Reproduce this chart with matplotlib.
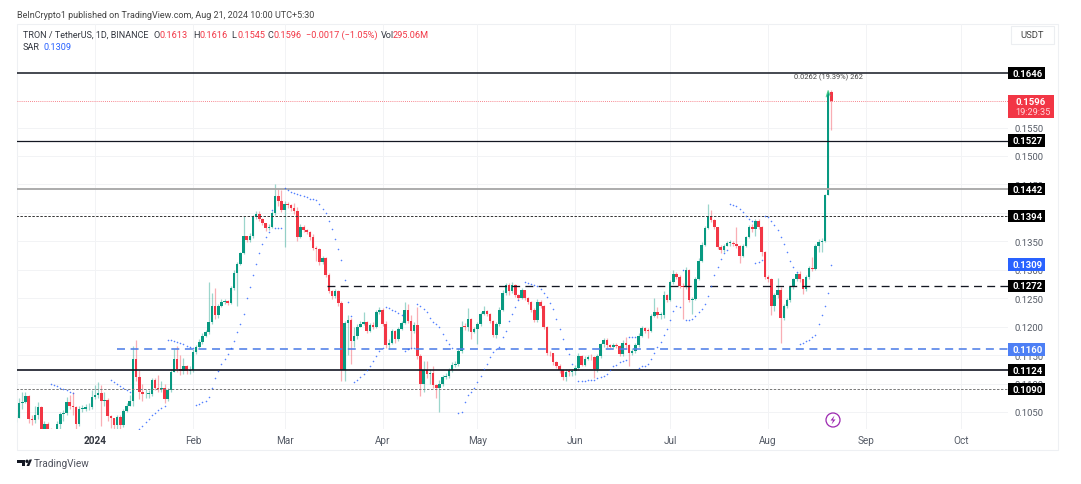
import numpy as np
import matplotlib
matplotlib.use('Agg')
import matplotlib.pyplot as plt
from matplotlib.patches import Rectangle, Polygon, Ellipse
from matplotlib.transforms import blended_transform_factory

W, H = 1081, 485

# all prices in thousandths of USDT, days counted from 1 Jan 2024
first_day = -25
first_open = 103.5

closes = [
    104.0, 106.6, 106.7, 107.8, 103.7, 103.6, 104.4, 105.9, 101.5, 102.9,
    102.0, 101.7, 101.3, 102.9, 104.6, 104.9, 106.7, 106.0, 105.8, 102.9,
    105.5, 105.6, 105.8, 105.9, 107.6, 107.9, 108.3, 107.0, 107.1, 104.3,
    103.9, 102.7, 104.2, 102.7, 105.2, 106.1, 106.9, 114.3, 111.2, 108.6,
    108.1, 108.2, 108.2, 110.6, 109.3, 109.0, 109.2, 107.2, 108.9, 112.1,
    114.4, 112.5, 112.2, 113.0, 112.2, 112.3, 115.6, 116.4, 117.3, 118.4,
    119.0, 120.9, 123.6, 122.0, 123.7, 124.4, 124.5, 124.1, 126.8, 129.5,
    131.0, 132.9, 135.9, 135.3, 136.0, 139.2, 139.8, 139.0, 138.2, 137.3,
    137.6, 139.9, 142.9, 142.0, 140.5, 141.5, 141.4, 140.8, 140.4, 135.8,
    137.6, 137.0, 136.7, 135.7, 133.8, 133.6, 131.4, 132.0, 129.1, 126.3,
    125.3, 126.2, 124.1, 112.4, 120.6, 121.2, 117.4, 118.3, 120.0, 120.5,
    120.8, 119.3, 120.3, 120.0, 122.5, 123.0, 120.5, 116.7, 117.2, 119.2,
    117.8, 119.6, 120.6, 123.0, 121.0, 119.2, 120.3, 114.8, 110.0, 112.4,
    111.6, 111.8, 109.7, 109.3, 110.0, 111.1, 111.4, 112.4, 113.3, 113.4,
    115.8, 120.0, 119.9, 121.3, 119.0, 119.6, 120.5, 122.2, 122.7, 122.2,
    121.0, 118.5, 120.5, 123.0, 126.0, 127.3, 126.3, 127.4, 125.6, 125.0,
    126.4, 125.0, 124.4, 123.0, 121.2, 124.4, 123.6, 120.0, 115.4, 115.3,
    113.7, 113.1, 112.4, 111.1, 112.1, 112.0, 112.2, 112.8, 114.9, 113.3,
    114.4, 114.7, 114.6, 112.5, 114.9, 116.9, 117.7, 116.7, 116.5, 116.8,
    116.6, 115.2, 117.2, 116.7, 115.4, 115.8, 116.8, 118.4, 119.7, 119.3,
    119.2, 121.9, 122.6, 122.0, 122.0, 125.5, 124.7, 127.8, 129.3, 128.8,
    127.2, 126.9, 130.0, 124.7, 124.8, 128.4, 131.6, 134.4, 137.3, 139.5,
    138.8, 137.5, 134.0, 133.5, 134.2, 134.7, 134.7, 134.6, 134.2, 132.5,
    134.2, 135.7, 137.5, 137.2, 138.6, 137.5, 133.1, 128.7, 128.4, 123.6,
    125.5, 126.5, 121.5, 123.6, 124.6, 126.9, 128.3, 129.2, 128.3, 126.6,
    128.7, 130.3, 130.2, 134.1, 134.8, 135.1, 143.1, 161.3, 159.6,
]
highs = [
    104.5, 107.5, 108.6, 108.6, 108.0, 104.5, 106.0, 106.8, 106.1, 103.5,
    103.2, 102.2, 101.9, 103.5, 105.0, 105.3, 107.6, 108.0, 108.5, 106.0,
    106.0, 106.2, 106.4, 106.6, 108.8, 109.8, 110.3, 109.8, 108.5, 107.5,
    104.5, 104.0, 104.5, 104.4, 105.5, 106.5, 108.0, 116.6, 117.6, 112.4,
    110.0, 109.0, 108.9, 111.0, 111.0, 111.5, 110.5, 110.0, 109.3, 112.6,
    116.0, 116.6, 115.0, 114.5, 113.2, 113.0, 116.0, 116.8, 117.8, 118.8,
    119.4, 127.8, 126.0, 126.8, 124.0, 124.8, 124.9, 124.7, 127.2, 130.0,
    131.4, 133.2, 139.4, 136.0, 136.5, 139.7, 140.4, 140.3, 139.1, 138.3,
    138.0, 140.3, 145.0, 144.2, 144.0, 142.0, 141.9, 141.5, 141.8, 141.0,
    138.0, 137.8, 137.2, 136.8, 136.3, 134.2, 133.8, 132.5, 132.2, 129.5,
    126.4, 126.7, 126.5, 124.5, 121.0, 122.0, 121.5, 120.0, 120.4, 121.0,
    122.5, 121.0, 120.6, 120.8, 122.9, 123.5, 123.2, 121.0, 117.8, 119.6,
    119.4, 120.0, 121.0, 124.3, 124.0, 122.0, 120.8, 123.5, 115.2, 114.0,
    114.0, 112.5, 113.0, 110.0, 110.6, 111.5, 111.8, 112.8, 113.7, 114.0,
    116.2, 121.0, 120.6, 123.2, 121.5, 120.0, 120.9, 122.6, 123.7, 123.0,
    122.4, 121.2, 120.9, 123.4, 126.5, 127.7, 127.6, 127.8, 127.5, 125.8,
    126.8, 126.5, 125.2, 124.5, 123.2, 124.8, 124.6, 123.8, 120.2, 115.8,
    115.4, 113.9, 113.4, 112.6, 112.5, 112.5, 112.6, 113.3, 115.3, 115.0,
    114.8, 115.1, 115.2, 114.8, 115.2, 117.2, 118.0, 118.0, 117.0, 117.2,
    117.2, 116.8, 117.6, 118.2, 116.9, 116.2, 117.1, 118.8, 120.2, 120.0,
    119.8, 122.3, 125.1, 123.5, 122.5, 126.2, 125.8, 128.2, 130.0, 129.6,
    129.0, 127.6, 130.4, 130.2, 125.2, 128.8, 132.0, 134.8, 137.7, 141.6,
    140.5, 139.0, 137.6, 134.3, 134.6, 135.0, 135.2, 135.0, 137.5, 134.3,
    134.6, 136.0, 137.9, 138.0, 139.0, 139.0, 137.7, 133.3, 129.0, 128.5,
    125.9, 128.5, 127.0, 124.0, 125.0, 127.2, 128.6, 129.6, 129.8, 128.4,
    129.0, 130.7, 132.2, 134.5, 135.4, 135.6, 143.4, 161.5, 161.6,
]
lows = [
    103.2, 103.9, 105.5, 106.5, 103.0, 102.8, 103.0, 103.8, 101.0, 101.0,
    101.0, 101.0, 100.8, 101.0, 102.0, 103.5, 104.5, 105.5, 104.5, 101.9,
    102.5, 105.0, 105.2, 105.4, 105.5, 107.2, 107.5, 102.5, 106.0, 103.4,
    102.2, 102.0, 101.8, 101.8, 102.3, 105.0, 106.0, 106.0, 110.5, 107.2,
    106.9, 107.5, 107.4, 107.8, 108.8, 108.5, 108.5, 106.5, 106.9, 108.5,
    112.0, 112.0, 111.5, 111.7, 111.6, 111.6, 112.0, 115.2, 116.2, 117.0,
    118.2, 118.7, 120.4, 121.4, 121.6, 123.4, 124.0, 123.8, 123.9, 126.5,
    123.7, 130.8, 132.7, 134.9, 134.9, 135.6, 138.9, 138.6, 137.8, 136.8,
    137.0, 137.4, 139.6, 141.2, 140.2, 134.0, 140.9, 140.3, 139.8, 135.0,
    135.6, 136.6, 136.2, 135.2, 133.4, 131.6, 130.9, 131.0, 128.7, 125.9,
    124.9, 125.0, 123.6, 110.5, 110.5, 115.0, 113.5, 116.5, 117.9, 120.0,
    120.3, 118.9, 119.0, 119.5, 119.8, 122.3, 120.2, 116.2, 116.0, 116.9,
    117.2, 117.5, 119.4, 120.4, 120.6, 116.0, 118.9, 114.4, 107.8, 108.5,
    110.9, 110.0, 109.3, 107.5, 105.0, 109.6, 110.8, 111.0, 112.0, 112.9,
    113.0, 115.4, 119.4, 119.3, 117.8, 118.9, 117.0, 120.1, 122.0, 121.8,
    120.7, 118.1, 118.0, 120.2, 122.7, 125.6, 125.6, 126.0, 125.2, 124.6,
    124.8, 124.6, 124.0, 122.6, 120.8, 120.9, 123.2, 119.6, 115.0, 114.8,
    113.3, 112.7, 111.8, 110.7, 110.5, 111.4, 111.3, 111.5, 112.3, 113.0,
    113.0, 114.2, 114.2, 111.0, 112.1, 114.5, 116.5, 116.2, 116.2, 116.3,
    116.2, 114.9, 114.9, 116.3, 113.0, 115.0, 115.4, 116.4, 118.2, 118.8,
    118.0, 119.0, 121.7, 121.6, 121.4, 121.6, 124.3, 124.5, 127.5, 128.3,
    126.8, 121.3, 126.6, 124.3, 122.3, 124.6, 128.2, 131.3, 134.2, 137.1,
    138.4, 137.1, 133.6, 132.9, 133.2, 134.2, 134.2, 134.2, 133.9, 131.2,
    132.2, 134.0, 135.5, 136.7, 136.0, 137.1, 132.5, 128.3, 127.9, 122.0,
    122.8, 125.1, 117.2, 121.2, 123.2, 124.4, 126.6, 128.0, 127.9, 125.8,
    126.2, 128.4, 129.8, 129.9, 133.2, 133.2, 134.8, 143.1, 154.5,
]

sar_days = np.r_[-14:-6, 5:12, 14:23, 23:32, 32:60, 60:82, 82:92, 92:98, 98:102,
                 102:114, 115:135, 136:152, 153:169, 169:172, 172:186, 186:187,
                 187:201, 201:209, 209:212, 212:223, 223:234]
sar_values = [
    109.9, 109.7, 109.5, 109.3, 109.1, 108.8, 108.6, 108.4,
    110.6, 110.3, 110.0, 109.6, 109.2, 108.8, 108.6,
    102.0, 102.6, 103.2, 103.8, 104.4, 104.9, 105.3, 105.7, 106.1,
    117.7, 117.6, 117.4, 117.3, 117.1, 116.9, 116.6, 116.4, 116.2,
    106.2, 106.4, 106.7, 107.0, 107.7, 109.3, 111.0, 112.2, 113.5, 114.3,
    115.2, 116.3, 117.5, 119.0, 120.5, 122.2, 125.0, 127.0, 129.1, 131.0,
    132.9, 134.5, 135.7, 136.7, 140.5, 137.3, 137.3, 137.4,
    144.3, 144.1, 143.7, 143.5, 143.3, 143.2, 143.0, 142.7, 142.5, 142.4,
    142.2, 141.5, 140.7, 139.9, 138.6, 137.1, 135.4, 133.6, 131.8, 128.2,
    124.4, 121.9,
    110.3, 110.7, 111.1, 111.6, 112.3, 113.1, 114.0, 114.8, 115.8, 116.2,
    123.4, 123.2, 123.0, 122.7, 122.4, 122.1,
    115.8, 116.1, 116.2, 116.3,
    124.0, 123.6, 123.1, 122.5, 121.6, 120.9, 120.5, 120.0, 118.7, 117.7, 117.0, 116.2,
    104.9, 105.0, 106.7, 107.9, 108.6, 109.2, 110.3, 111.4, 112.5, 113.5,
    114.6, 115.5, 116.0, 116.4, 118.1, 119.3, 121.0, 122.2, 123.4, 124.6,
    127.8, 127.7, 127.5, 127.3, 127.1, 126.7, 126.0, 125.2, 124.2, 123.1,
    121.3, 119.6, 117.8, 116.1, 115.2, 113.4,
    110.4, 110.5, 110.5, 110.7, 110.7, 110.7, 111.0, 111.2, 111.4, 111.7,
    112.3, 113.0, 113.3, 113.7, 114.0, 114.2,
    118.1, 118.1, 118.1,
    112.8, 113.0, 113.1, 113.4, 114.3, 115.4, 116.4, 117.3, 118.5, 119.6,
    121.2, 122.8, 123.7, 123.4,
    130.0,
    121.2, 121.2, 121.4, 121.9, 122.5, 123.1, 124.0, 125.3, 127.2, 129.0,
    130.4, 131.9, 133.0, 133.4,
    141.6, 141.4, 141.2, 140.7, 140.1, 139.5, 138.9, 138.6,
    131.2, 131.4, 131.8,
    139.4, 139.2, 138.6, 137.8, 136.9, 135.7, 134.5, 133.2, 131.6, 130.4, 129.6,
    117.0, 117.2, 117.4, 117.7, 118.1, 118.5, 120.5, 122.0, 123.6, 126.0, 130.9,
]

# 0.1100 0.1150 0.1300 0.1400 0.1450 sit behind the level boxes in the reference,
# only a sliver of them shows
price_ticks = [105, 110, 115, 120, 125, 130, 135, 140, 145, 150, 155]
month_days = [0, 31, 60, 91, 121, 152, 182, 213, 244, 274]
month_labels = ['2024', 'Feb', 'Mar', 'Apr', 'May', 'Jun', 'Jul', 'Aug', 'Sep', 'Oct']

level_values = [164.6, 152.7, 144.2, 139.4, 127.2, 116.0, 112.4, 109.0]
level_labels = ['0.1646', '0.1527', '0.1442', '0.1394', '0.1272', '0.1160', '0.1124', '0.1090']
level_colors = ['#131722', '#131722', '#a6a6a6', '#333333', '#131722', '#4f7fe8', '#131722', '#777777']
level_styles = ['-', '-', '-', (0, (2.5, 1.6)), (0, (6, 4)), (0, (5, 3.5)), '-', (0, (2.5, 1.6))]
level_widths = [1.1, 0.9, 1.3, 0.7, 0.95, 1.15, 1.2, 0.7]
level_starts = [-30, -30, -30, -30, 73.5, 7, -30, -30]

last_price = 159.6
green = '#089981'
red = '#f23645'
blue = '#2962ff'

plt.rcParams['font.family'] = ['Roboto', 'DejaVu Sans']


def fx(x):
    return x / W


def fy(y):
    return 1 - y / H


fig = plt.figure(figsize=(W / 100, H / 100), dpi=100, facecolor='white')

# chart frame
fig.add_artist(Rectangle((fx(17), fy(451)), 1041 / W, 426 / H, transform=fig.transFigure,
                         fc='white', ec='#eef0f3', lw=0.8, zorder=-5))

ax = fig.add_axes([fx(17), fy(430), 991 / W, 405 / H])
ax.set_xlim((17 - 95) / 3.16, (1008 - 95) / 3.16)
ax.set_ylim(155 - (430 - 128.5) / 5.69, 155 + (128.5 - 25) / 5.69)
ax.patch.set_alpha(0)
for s in ax.spines.values():
    s.set_visible(False)

ax.set_xticks(month_days)
ax.set_xticklabels(month_labels, fontsize=7.2, color='#555b66')
ax.get_xticklabels()[0].set_fontweight('bold')
ax.get_xticklabels()[0].set_color('#333740')
ax.tick_params(axis='x', length=0, pad=4)
ax.yaxis.tick_right()
ax.set_yticks(price_ticks)
ax.set_yticklabels(['%.4f' % (p / 1000) for p in price_ticks], fontsize=6.8, color='#555b66')
ax.tick_params(axis='y', length=0, pad=5)
ax.grid(True, color='#f2f3f5', lw=0.7)
ax.set_axisbelow(True)

closes_a = np.array(closes)
highs_a = np.array(highs)
lows_a = np.array(lows)
opens_a = np.r_[first_open, closes_a[:-1]]
days = np.arange(len(closes)) + first_day
up = closes_a >= opens_a
colors = np.where(up, green, red)

# price line and levels below the candles
ax.axhline(last_price, color=red, lw=0.6, ls=(0, (1, 1.5)), alpha=0.8, zorder=1.5)
for v, c, st, lw, x0 in zip(level_values, level_colors, level_styles, level_widths, level_starts):
    ax.plot([x0, 300], [v, v], color=c, ls=st, lw=lw, zorder=4)

# candles
ax.vlines(days, lows_a, highs_a, colors=list(colors), lw=0.9, alpha=0.4, zorder=2)
body_bottom = np.minimum(opens_a, closes_a)
body_height = np.maximum(np.abs(closes_a - opens_a), 0.15)
ax.bar(days, body_height, bottom=body_bottom, width=0.8, color=list(colors), lw=0, zorder=3)

# parabolic SAR
ax.plot(sar_days, sar_values, ls='none', marker='o', ms=1.15, mew=0, color=blue, alpha=0.8, zorder=5)

# measure tick on the last leg
ax.plot([231.4, 232, 232.6], [160.4, 161.5, 160.6], color='#4cd08a', lw=0.7, zorder=5)
ax.text(232, 164.05, '0.0262 (19.39%) 262', fontsize=5.4, color='#444444', ha='center', va='center', zorder=6)

# price scale boxes
tr = blended_transform_factory(fig.transFigure, ax.transData)
for v, lab in zip(level_values, level_labels):
    if lab == '0.1160':
        continue
    ax.add_patch(Rectangle((fx(1008), v - 1.08), 37 / W, 2.16, transform=tr, fc='black', ec='none',
                           clip_on=False, zorder=8))
    ax.text(fx(1028), v - 0.03, lab, transform=tr, color='white', fontsize=6.8, fontweight='bold',
            ha='center', va='center', zorder=9)

ax.add_patch(Rectangle((fx(1008), 130.9 - 1.1), 37 / W, 2.2, transform=tr, fc='#2962ff', ec='none',
                       clip_on=False, zorder=8))
ax.text(fx(1028), 130.87, '0.1309', transform=tr, color='white', fontsize=6.8, fontweight='bold',
        ha='center', va='center', zorder=9)
ax.add_patch(Rectangle((fx(1008), 116.0 - 1.1), 37 / W, 2.2, transform=tr, fc='#4d7ff5', ec='none',
                       clip_on=False, zorder=8.5))
ax.text(fx(1028), 115.97, '0.1160', transform=tr, color='white', fontsize=6.8, fontweight='bold',
        ha='center', va='center', zorder=9)
ax.add_patch(Rectangle((fx(1008), 156.7), 46 / W, 4.0, transform=tr, fc=red, ec='none',
                       clip_on=False, zorder=8))
ax.text(fx(1015), 159.55, '0.1596', transform=tr, color='white', fontsize=6.8, fontweight='bold',
        ha='left', va='center', zorder=9)
ax.text(fx(1015), 157.85, '19:29:35', transform=tr, color='#ffd5d9', fontsize=6.6,
        ha='left', va='center', zorder=9)

# header
fig.text(fx(17), fy(16), 'BeInCrypto1 published on TradingView.com, Aug 21, 2024 10:00 UTC+5:30',
         fontsize=6.5, color='#444444', ha='left', va='center')
fig.text(fx(23), fy(35.5), 'TRON / TetherUS, 1D, BINANCE', fontsize=6.5, color='#333740',
         ha='left', va='center')
ohlc_x = [154, 193, 231, 268]
ohlc_k = ['O', 'H', 'L', 'C']
ohlc_v = ['0.1613', '0.1616', '0.1545', '0.1596']
for x, k, v in zip(ohlc_x, ohlc_k, ohlc_v):
    fig.text(fx(x), fy(35.5), k, fontsize=6.6, color='#333740', ha='left', va='center')
    fig.text(fx(x + 6), fy(35.5), v, fontsize=6.6, color=red, ha='left', va='center')
fig.text(fx(306), fy(35.5), '\u22120.0017 (\u22121.05%)', fontsize=6.6, color=red, ha='left', va='center')
fig.text(fx(381), fy(35.5), 'Vol', fontsize=6.6, color='#333740', ha='left', va='center')
fig.text(fx(393), fy(35.5), '295.06M', fontsize=6.6, color=red, ha='left', va='center')
fig.text(fx(23), fy(48), 'SAR', fontsize=6.6, color='#333740', ha='left', va='center')
fig.text(fx(43), fy(48), '0.1309', fontsize=6.6, color=blue, ha='left', va='center')

# USDT button
fig.add_artist(Rectangle((fx(1011), fy(45)), 43 / W, 18 / H, transform=fig.transFigure,
                         fc='white', ec='#eceef1', lw=0.8))
fig.text(fx(1032.5), fy(36), 'USDT', fontsize=6.8, color='#444444', ha='center', va='center')

# lightning marker
fig.add_artist(Ellipse((fx(833), fy(421)), 14 / W, 14 / H, transform=fig.transFigure,
                       fc='white', ec='#9c27b0', lw=0.9, zorder=6))
fig.add_artist(Polygon([(fx(834.5), fy(416.5)), (fx(830.5), fy(421.5)), (fx(833), fy(421.5)),
                        (fx(831.5), fy(425.5)), (fx(835.5), fy(420.5)), (fx(833), fy(420.5))],
                       closed=True, transform=fig.transFigure, fc='#9c27b0', ec='none', zorder=7))

# TradingView logo
logo = '#131722'
fig.add_artist(Polygon([(fx(17), fy(460.5)), (fx(25), fy(460.5)), (fx(25), fy(467)), (fx(21.5), fy(467)),
                        (fx(21.5), fy(464)), (fx(17), fy(464))],
                       closed=True, transform=fig.transFigure, fc=logo, ec='none'))
fig.add_artist(Ellipse((fx(27), fy(462.3)), 3.4 / W, 3.4 / H, transform=fig.transFigure, fc=logo, ec='none'))
fig.add_artist(Polygon([(fx(26.5), fy(467)), (fx(29.5), fy(460.5)), (fx(32), fy(460.5)), (fx(29.2), fy(467))],
                       closed=True, transform=fig.transFigure, fc=logo, ec='none'))
fig.text(fx(34), fy(464.5), 'TradingView', fontsize=7.2, color='#50535e', ha='left', va='center')

fig.savefig('out.png', dpi=100, facecolor='white')
